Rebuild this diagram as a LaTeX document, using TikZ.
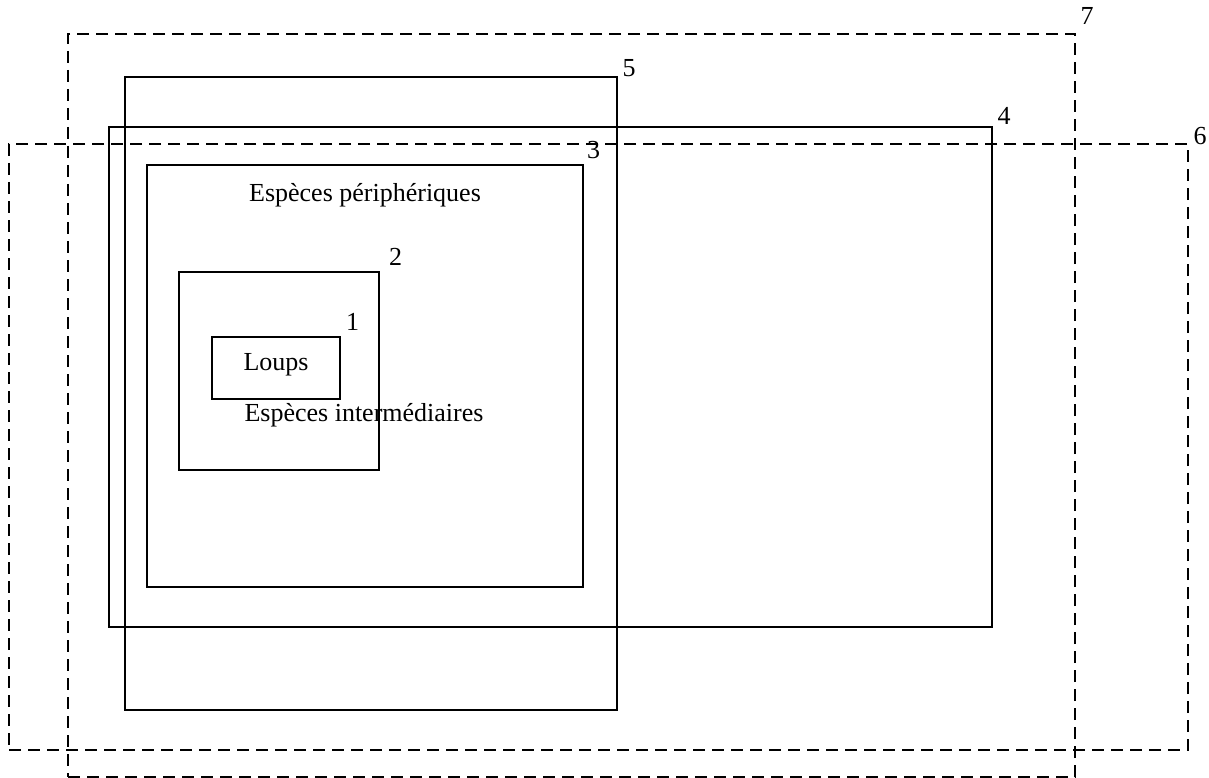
\documentclass[tikz,border=0pt]{standalone}
\usepackage{fontspec}
\setmainfont{Liberation Serif}
\usetikzlibrary{positioning}

\begin{document}
\begin{tikzpicture}[x=1pt,y=-1pt,
    zone/.style={draw, line width=2.6pt, inner sep=0pt},
    dashzone/.style={zone, dash pattern=on 12pt off 7pt},
    inzone/.style={draw, line width=2pt, inner sep=0pt},
    num/.style={anchor=base west, inner sep=0pt, xshift=4pt, font=\fontsize{26}{30}\selectfont},
    txt/.style={inner sep=0pt, font=\fontsize{26}{30}\selectfont}]
  \useasboundingbox (0,0) rectangle (1209,778);
  % outer zones
  \node[dashzone, minimum width=1007pt, minimum height=743pt] (z7) at (571.5,405.5) {};
  \node[dashzone, minimum width=1179pt, minimum height=606pt] (z6) at (598.5,447) {};
  \node[zone, minimum width=492pt, minimum height=633pt] (z5) at (371,393.5) {};
  \node[zone, minimum width=883pt, minimum height=500pt] (z4) at (550.5,377) {};
  % inner zones
  \node[inzone, minimum width=436pt, minimum height=422pt] (z3) at (365,376) {};
  \node[inzone, minimum width=200pt, minimum height=198pt] (z2) at (279,371) {};
  \node[inzone, minimum width=128pt, minimum height=62pt] (z1) at (276,368) {};
  % numbers
  \node[num, yshift=8pt] (n7) at (z7.north east) {7};
  \node[num, yshift=-2pt] (n6) at (z6.north east) {6};
  \node[num, yshift=-1pt] (n5) at (z5.north east) {5};
  \node[num, yshift=1pt] (n4) at (z4.north east) {4};
  \node[num, yshift=5pt, xshift=-1pt] (n3) at (z3.north east) {3};
  \node[num, yshift=6pt, xshift=5pt] (n2) at (z2.north east) {2};
  \node[num, yshift=6pt, xshift=1pt] (n1) at (z1.north east) {1};
  % texts
  \node[txt] (loups) at (276,365) {Loups};
  \node[txt] (inter) at (364,415) {Espèces intermédiaires};
  \node[txt] (peri) at (365,195) {Espèces périphériques};
\end{tikzpicture}
\end{document}
